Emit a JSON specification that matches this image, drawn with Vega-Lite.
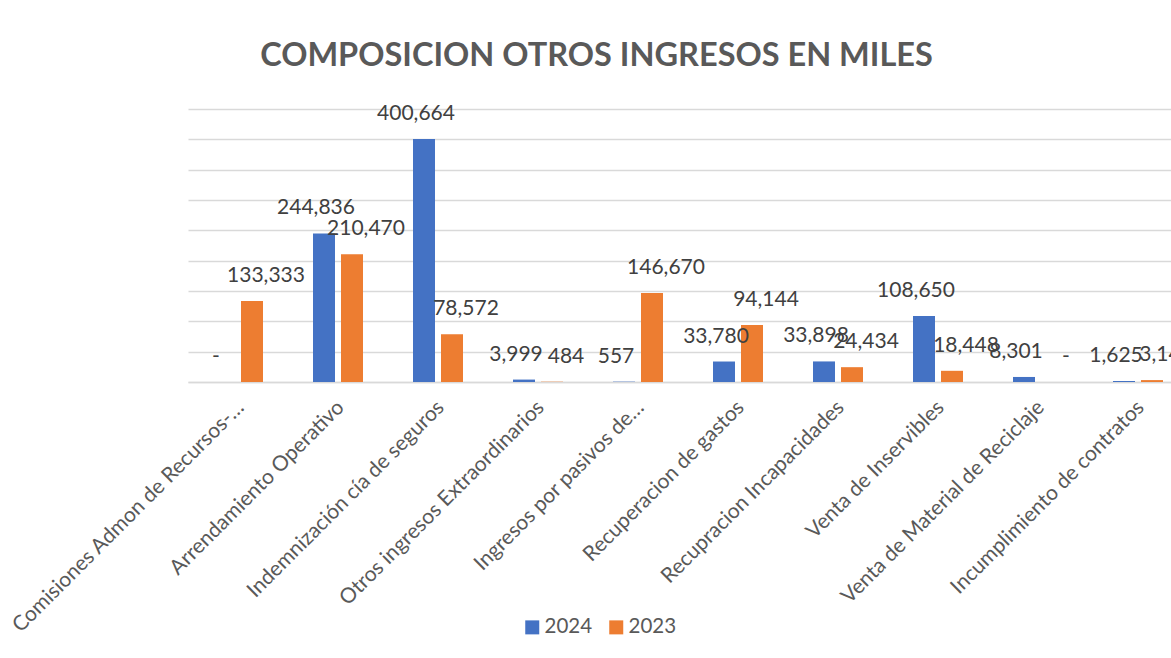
{
  "$schema": "https://vega.github.io/schema/vega-lite/v6.json",
  "autosize": {"type": "none"},
  "width": 983,
  "height": 273,
  "padding": {"left": 188, "top": 109, "right": 0, "bottom": 276},
  "background": "white",
  "config": {"view": {"stroke": null}},
  "title": {
    "text": "COMPOSICION OTROS INGRESOS EN MILES",
    "font": "Lato",
    "fontSize": 32.5,
    "fontWeight": "bold",
    "color": "#595959",
    "anchor": "middle",
    "frame": "group",
    "dx": -83,
    "offset": 30
  },
  "data": {
    "values": [
      {"categoria": "Comisiones Admon de Recursos-…", "anio": "2024", "valor": 0},
      {"categoria": "Comisiones Admon de Recursos-…", "anio": "2023", "valor": 133333},
      {"categoria": "Arrendamiento Operativo", "anio": "2024", "valor": 244836},
      {"categoria": "Arrendamiento Operativo", "anio": "2023", "valor": 210470},
      {"categoria": "Indemnización cía de seguros", "anio": "2024", "valor": 400664},
      {"categoria": "Indemnización cía de seguros", "anio": "2023", "valor": 78572},
      {"categoria": "Otros ingresos Extraordinarios", "anio": "2024", "valor": 3999},
      {"categoria": "Otros ingresos Extraordinarios", "anio": "2023", "valor": 484},
      {"categoria": "Ingresos por pasivos de…", "anio": "2024", "valor": 557},
      {"categoria": "Ingresos por pasivos de…", "anio": "2023", "valor": 146670},
      {"categoria": "Recuperacion de gastos", "anio": "2024", "valor": 33780},
      {"categoria": "Recuperacion de gastos", "anio": "2023", "valor": 94144},
      {"categoria": "Recupracion Incapacidades", "anio": "2024", "valor": 33898},
      {"categoria": "Recupracion Incapacidades", "anio": "2023", "valor": 24434},
      {"categoria": "Venta de Inservibles", "anio": "2024", "valor": 108650},
      {"categoria": "Venta de Inservibles", "anio": "2023", "valor": 18448},
      {"categoria": "Venta de Material de Reciclaje", "anio": "2024", "valor": 8301},
      {"categoria": "Venta de Material de Reciclaje", "anio": "2023", "valor": 0},
      {"categoria": "Incumplimiento de contratos", "anio": "2024", "valor": 1625},
      {"categoria": "Incumplimiento de contratos", "anio": "2023", "valor": 3148}
    ]
  },
  "encoding": {
    "x": {
      "field": "categoria",
      "type": "nominal",
      "sort": null,
      "title": null,
      "scale": {"range": [0, 1000], "paddingInner": 0.5, "paddingOuter": 0.25},
      "axis": {
        "labelAngle": -45,
        "labelAlign": "right",
        "labelBaseline": "middle",
        "labelPadding": 22,
        "labelOffset": 3,
        "labelFont": "Lato",
        "labelFontSize": 21,
        "labelColor": "#595959",
        "labelLimit": 400,
        "ticks": false,
        "domain": true,
        "domainColor": "#d9d9d9",
        "domainWidth": 1.5,
        "grid": false
      }
    },
    "xOffset": {
      "field": "anio",
      "type": "nominal",
      "sort": ["2024", "2023"],
      "scale": {"paddingInner": 0.2143, "paddingOuter": 0}
    },
    "y": {
      "field": "valor",
      "type": "quantitative",
      "title": null,
      "scale": {"domain": [0, 450000], "nice": false},
      "axis": {
        "values": [0, 50000, 100000, 150000, 200000, 250000, 300000, 350000, 400000, 450000],
        "labels": false,
        "ticks": false,
        "domain": false,
        "grid": true,
        "gridColor": "#d9d9d9",
        "gridWidth": 1.5,
        "title": null
      }
    }
  },
  "layer": [
    {
      "mark": {"type": "bar"},
      "encoding": {
        "color": {
          "field": "anio",
          "type": "nominal",
          "sort": ["2024", "2023"],
          "scale": {"domain": ["2024", "2023"], "range": ["#4472C4", "#ED7D31"]},
          "legend": {
            "title": null,
            "orient": "none",
            "legendX": 334,
            "legendY": 508,
            "direction": "horizontal",
            "columns": 2,
            "symbolType": "square",
            "symbolSize": 196,
            "symbolStrokeWidth": 0,
            "labelFont": "Lato",
            "labelFontSize": 20.5,
            "labelColor": "#595959",
            "labelOffset": 2,
            "columnPadding": 13
          }
        }
      }
    },
    {
      "transform": [{"filter": "datum.anio === '2024'"}],
      "mark": {
        "type": "text",
        "font": "Lato",
        "fontSize": 21,
        "color": "#404040",
        "baseline": "middle",
        "dy": -25,
        "dx": -8
      },
      "encoding": {
        "text": {
          "condition": {"test": "datum.valor === 0", "value": "-"},
          "field": "valor",
          "type": "quantitative",
          "format": ","
        }
      }
    },
    {
      "transform": [{"filter": "datum.anio === '2023'"}],
      "mark": {
        "type": "text",
        "font": "Lato",
        "fontSize": 21,
        "color": "#404040",
        "baseline": "middle",
        "dy": -25,
        "dx": 14
      },
      "encoding": {
        "text": {
          "condition": {"test": "datum.valor === 0", "value": "-"},
          "field": "valor",
          "type": "quantitative",
          "format": ","
        }
      }
    }
  ]
}
